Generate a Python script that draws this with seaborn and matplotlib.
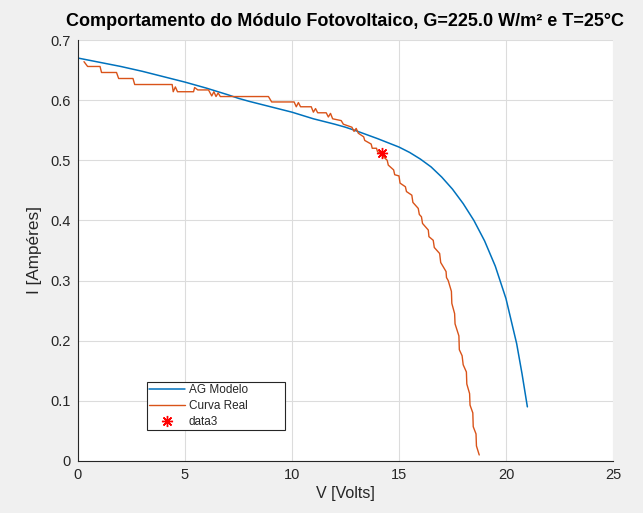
import numpy as np
import pandas as pd
import matplotlib
matplotlib.use("Agg")
import matplotlib.pyplot as plt
import seaborn as sns

# AG model curve
v_model = [0, 1, 2, 3, 4, 5, 6, 7, 7.5, 8, 9, 10, 11, 12, 12.5, 13, 14, 15,
           15.5, 16, 16.5, 17, 17.5, 18, 18.5, 19, 19.5, 20, 20.5, 20.75, 21]
i_model = [0.670, 0.663, 0.656, 0.648, 0.639, 0.630, 0.620, 0.609, 0.603, 0.598,
           0.589, 0.580, 0.569, 0.560, 0.555, 0.549, 0.536, 0.522,
           0.513, 0.502, 0.489, 0.472, 0.452, 0.428, 0.400, 0.366, 0.324, 0.270,
           0.195, 0.145, 0.090]

# measured curve (step-like)
v_real = [0.28, 0.45, 1.03, 1.1, 1.8, 1.9, 2.57, 2.65, 4.4, 4.45, 4.55, 4.65, 5.4,
          5.45, 5.6, 6.1, 6.25, 6.35, 6.45, 6.55, 6.65, 8.9, 9.05, 10.1, 10.2,
          10.3, 10.4, 10.9, 11.0, 11.1, 11.2, 11.6, 11.7, 11.8, 11.9, 12.3, 12.4,
          12.8, 12.9, 13.0, 13.1, 13.35, 13.4, 13.7, 13.75, 13.95, 14.0, 14.2,
          14.3, 14.45, 14.5, 14.75, 14.8, 15.0, 15.05, 15.3, 15.35, 15.6, 15.65,
          15.9, 15.95, 16.05, 16.1, 16.37, 16.4, 16.6, 16.65, 16.9, 16.95, 17.2,
          17.22, 17.3, 17.45, 17.47, 17.6, 17.62, 17.8, 17.82, 17.95, 18.0, 18.15,
          18.17, 18.3, 18.32, 18.45, 18.47, 18.6, 18.62, 18.75]
i_real = [0.664, 0.656, 0.656, 0.646, 0.646, 0.636, 0.636, 0.626, 0.626, 0.614,
          0.622, 0.614, 0.614, 0.621, 0.617, 0.617, 0.607, 0.614, 0.606, 0.612,
          0.606, 0.606, 0.597, 0.597, 0.589, 0.596, 0.589, 0.589, 0.580, 0.586,
          0.579, 0.579, 0.572, 0.578, 0.569, 0.566, 0.560, 0.555, 0.548, 0.553,
          0.545, 0.539, 0.533, 0.527, 0.520, 0.520, 0.514, 0.512, 0.505, 0.500,
          0.492, 0.484, 0.476, 0.474, 0.462, 0.456, 0.448, 0.442, 0.430, 0.420,
          0.410, 0.406, 0.395, 0.384, 0.373, 0.367, 0.355, 0.345, 0.330, 0.315,
          0.305, 0.300, 0.282, 0.262, 0.245, 0.228, 0.208, 0.185, 0.175, 0.160,
          0.148, 0.128, 0.112, 0.093, 0.080, 0.057, 0.045, 0.025, 0.010]

v_point = [14.2]
i_point = [0.512]

sns.set_style("whitegrid")
plt.rcParams['font.family'] = ['Liberation Sans', 'DejaVu Sans']

fig = plt.figure(figsize=(6.43, 5.13), dpi=100, facecolor='#f0f0f0')
ax = fig.add_axes([0.1213, 0.1014, 0.832, 0.8206])

sns.lineplot(x=v_model, y=i_model, sort=False, estimator=None, color='#0072BD',
             linewidth=1.1, label='AG Modelo', ax=ax)
sns.lineplot(x=v_real, y=i_real, sort=False, estimator=None, color='#D95319',
             linewidth=1.0, label='Curva Real', ax=ax)
ax.plot(v_point, i_point, linestyle='none', marker=(8, 2, 0), color='red',
        markersize=8, markeredgewidth=1.0, label='data3')

ax.set_xlim(0, 25)
ax.set_ylim(0, 0.7)
ax.set_xticks([0, 5, 10, 15, 20, 25])
ax.set_yticks(np.arange(0, 0.71, 0.1))
ax.set_yticklabels(['0', '0.1', '0.2', '0.3', '0.4', '0.5', '0.6', '0.7'])
ax.grid(True, color='#dcdcdc', linewidth=0.8)
ax.set_facecolor('white')

for s in ['top', 'right']:
    ax.spines[s].set_visible(False)
for s in ['left', 'bottom']:
    ax.spines[s].set_color('#262626')
    ax.spines[s].set_linewidth(0.8)
ax.tick_params(direction='in', length=4, width=0.8, colors='#262626',
               labelsize=10.5, pad=5)

ax.set_title('Comportamento do Módulo Fotovoltaico, G=225.0 W/m² e T=25°C',
             fontsize=13, fontweight='bold', color='black', pad=10)
ax.set_xlabel('V [Volts]', fontsize=11.5, color='#262626', labelpad=3)
ax.set_ylabel('I [Ampéres]', fontsize=12.3, color='#262626', labelpad=6)

leg = ax.legend(loc='lower left', bbox_to_anchor=(0.129, 0.0736, 0.258, 0.11),
                mode='expand', borderaxespad=0, fontsize=8.5,
                frameon=True, fancybox=False, framealpha=1, handlelength=3.0,
                borderpad=0.2, labelspacing=0.32, handletextpad=0.35)
leg.get_frame().set_edgecolor('#262626')
leg.get_frame().set_linewidth(0.8)

fig.savefig('out.png', dpi=100, facecolor=fig.get_facecolor())
